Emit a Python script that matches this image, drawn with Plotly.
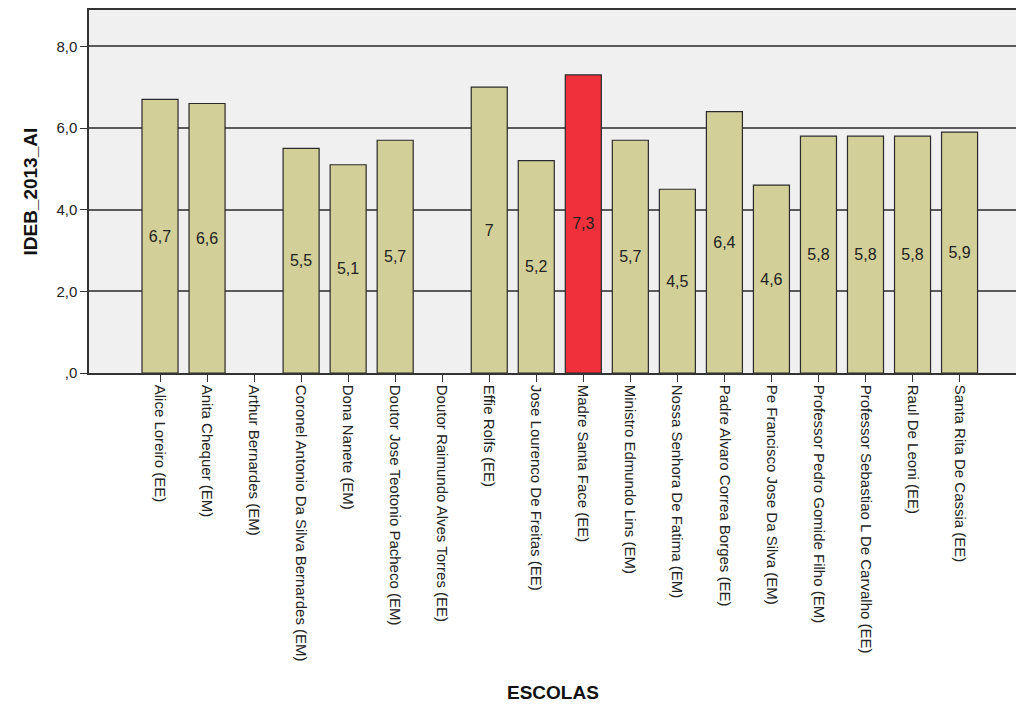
import plotly.graph_objects as go

escolas = [
    "Alice Loreiro (EE)", "Anita Chequer (EM)", "Arthur Bernardes (EM)",
    "Coronel Antonio Da Silva Bernardes (EM)", "Dona Nanete (EM)",
    "Doutor Jose Teotonio Pacheco (EM)", "Doutor Raimundo Alves Torres (EE)",
    "Effie Rolfs (EE)", "Jose Lourenco De Freitas (EE)", "Madre Santa Face (EE)",
    "Ministro Edmundo Lins (EM)", "Nossa Senhora De Fatima (EM)",
    "Padre Alvaro Correa Borges (EE)", "Pe Francisco Jose Da Silva (EM)",
    "Professor Pedro Gomide Filho (EM)", "Professor Sebastiao L De Carvalho (EE)",
    "Raul De Leoni (EE)", "Santa Rita De Cassia (EE)",
]
ideb = [6.7, 6.6, None, 5.5, 5.1, 5.7, None, 7.0, 5.2, 7.3, 5.7, 4.5, 6.4, 4.6, 5.8, 5.8, 5.8, 5.9]
highlight = "Madre Santa Face (EE)"
y_tickvals = [0, 2, 4, 6, 8]
y_ticktext = [",0", "2,0", "4,0", "6,0", "8,0"]

def fmt(v):
    if v is None:
        return ""
    return ("%g" % v).replace(".", ",")

labels = [fmt(v) for v in ideb]
colors = ["#F0303A" if e == highlight else "#D3CF98" for e in escolas]
xpos = list(range(len(escolas)))

fig = go.Figure(go.Bar(
    x=xpos, y=ideb, text=labels,
    textposition="inside", insidetextanchor="middle", textangle=0,
    textfont=dict(family="Liberation Sans, Arial, sans-serif", size=16, color="#222222"),
    marker=dict(color=colors, line=dict(color="#2a2a2a", width=1.2)),
    width=0.766,
))

fig.update_layout(
    width=1016, height=704,
    margin=dict(l=89, r=0, t=10, b=331),
    paper_bgcolor="white", plot_bgcolor="#F0F0F0",
    showlegend=False,
    font=dict(family="Liberation Sans, Arial, sans-serif", color="#222222"),
)
fig.update_xaxes(
    range=[-1.51, 18.2], tickmode="array", tickvals=xpos, ticktext=escolas,
    tickangle=90, ticks="outside", ticklen=7, tickwidth=1.2, tickcolor="#333333",
    tickfont=dict(size=15, color="#222222"),
    showline=True, linecolor="#333333", linewidth=1.5, mirror=True,
    showgrid=False, zeroline=False,
)
fig.update_yaxes(
    range=[0, 8.89], tickmode="array", tickvals=y_tickvals, ticktext=y_ticktext,
    ticks="outside", ticklen=7, tickwidth=1.2, tickcolor="#333333",
    tickfont=dict(size=15, color="#222222"),
    showline=True, linecolor="#333333", linewidth=1.5,
    showgrid=True, gridcolor="#5a5a5a", gridwidth=1.5, zeroline=False,
)
fig.add_annotation(text="<b>ESCOLAS</b>", xref="paper", yref="paper", x=0.5, y=-0.879,
                   yanchor="middle", showarrow=False,
                   font=dict(size=19, color="#111111"))
fig.add_annotation(text="<b>IDEB_2013_AI</b>", xref="paper", yref="paper", x=-0.0636, y=0.5,
                   xanchor="center", yanchor="middle", textangle=-90, showarrow=False,
                   font=dict(size=19, color="#111111"))

fig.write_html("out.html", config={"displayModeBar": False},
               post_script="document.body.style.margin='0';document.body.style.overflow='hidden';")
